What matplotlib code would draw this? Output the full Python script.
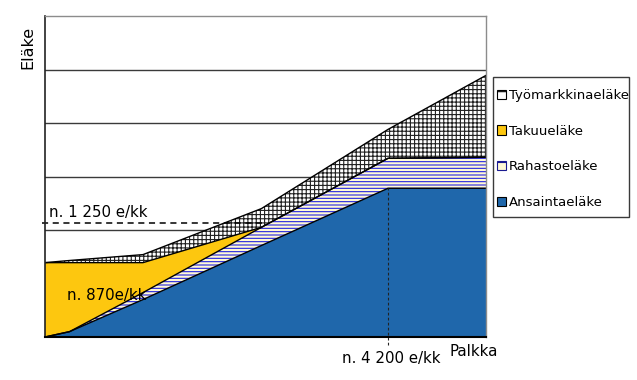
import matplotlib.pyplot as plt
import numpy as np
from matplotlib.patches import Patch, Rectangle

# salary points (e/kk) and the thickness of each pension layer (grid units)
salary = [0, 300, 1200, 2650, 4200, 5400]
ansainta = [0.00, 0.10, 0.70, 1.71, 2.78, 2.78]
rahasto = [0.00, 0.00, 0.13, 0.34, 0.56, 0.58]
takuu = [1.39, 1.29, 0.56, 0.00, 0.00, 0.00]
tyomarkkina = [0.00, 0.04, 0.15, 0.35, 0.54, 1.53]

labels = ["Ansaintaeläke", "Rahastoeläke", "Takuueläke", "Työmarkkinaeläke"]
grid_levels = [1, 2, 3, 4, 5]
level_1250 = 2.13
salary_4200 = 4200

plt.rcParams["hatch.linewidth"] = 0.8
plt.rcParams["font.family"] = "DejaVu Sans"

fig = plt.figure(figsize=(6.37, 3.80), dpi=100)
ax = fig.add_axes([45 / 637, 43 / 380, 441 / 637, 321 / 380])
ax.set_xlim(0, 5400)
ax.set_ylim(0, 6)

for g in grid_levels:
    ax.axhline(g, color="#3a3a3a", lw=1.0, zorder=0)

x = np.array(salary)
s1 = np.array(ansainta)
s2 = s1 + np.array(rahasto)
s3 = s2 + np.array(takuu)
s4 = s3 + np.array(tyomarkkina)

blue = "#1F67AB"
yellow = "#FDC70F"
cream = "#FFF9D6"

ax.fill_between(x, 0, s1, facecolor=blue, lw=0, zorder=2)
ax.fill_between(x, s1, s2, facecolor=cream, edgecolor="#2424E0",
                hatch="-----", lw=0, zorder=2)
ax.fill_between(x, s2, s3, facecolor=yellow, lw=0, zorder=2)
ax.fill_between(x, s3, s4, facecolor="white", edgecolor="#202020",
                hatch="++++", lw=0, zorder=2)

for top in (s1, s2, s3, s4):
    ax.plot(x, top, color="black", lw=1.0, zorder=3)

# guide lines
ax.plot([-40, 2690], [level_1250, level_1250], color="black", lw=1.1,
        ls=(0, (4, 3)), zorder=4, clip_on=False)
ax.plot([salary_4200, salary_4200], [-0.15, ansainta[4]], color="#222222",
        lw=0.8, ls=(0, (2.5, 2)), zorder=4, clip_on=False)

for side in ("top", "right"):
    ax.spines[side].set_color("#8c8c8c")
    ax.spines[side].set_linewidth(1.0)
ax.spines["left"].set_color("#222222")
ax.spines["left"].set_linewidth(1.2)
ax.spines["bottom"].set_color("black")
ax.spines["bottom"].set_linewidth(1.5)
for sp in ax.spines.values():
    sp.set_zorder(5)
ax.set_xticks([])
ax.set_yticks([])

fs = 10.8
ax.text(50, 2.32, "n. 1 250 e/kk", fontsize=fs, va="center", ha="left")
ax.text(270, 0.77, "n. 870e/kk", fontsize=fs, va="center", ha="left", zorder=6)
fig.text(391 / 637, 1 - 358 / 380, "n. 4 200 e/kk", fontsize=fs,
         ha="center", va="center")
fig.text(474 / 637, 1 - 351 / 380, "Palkka", fontsize=fs,
         ha="center", va="center")
fig.text(28 / 637, 1 - 47 / 380, "Eläke", fontsize=11.5, rotation=90,
         ha="center", va="center")

handles = [
    Patch(facecolor="white", edgecolor="black", hatch="+", lw=0.8),
    Patch(facecolor=yellow, edgecolor="black", lw=0.8),
    Patch(facecolor=cream, edgecolor="#1a1a90", hatch="--", lw=0.8),
    Patch(facecolor=blue, edgecolor="black", lw=0.8),
]
fig.legend(handles, labels[::-1], loc="upper left",
           bbox_to_anchor=(497 / 637, 1 - 89 / 380),
           bbox_transform=fig.transFigure, borderaxespad=0, borderpad=0,
           fontsize=9.5, handlelength=0.7, handleheight=0.7,
           handletextpad=0.2, labelspacing=1.72, frameon=False)
fig.patches.append(Rectangle((493 / 637, 1 - 217 / 380), 136 / 637,
                             140 / 380, transform=fig.transFigure,
                             facecolor="none", edgecolor="#3a3a3a", lw=1.0))

fig.savefig("out.png", dpi=100)
